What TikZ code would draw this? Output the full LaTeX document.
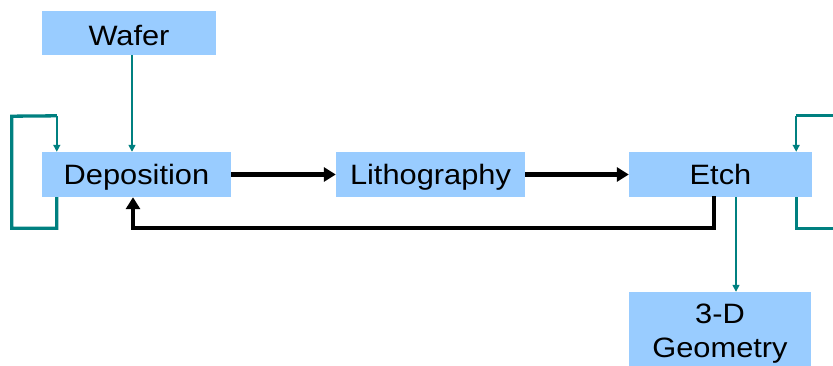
\documentclass[tikz,border=0pt]{standalone}
\usepackage{fontspec}
\setmainfont{Liberation Sans}[FakeStretch=1.1]
\usetikzlibrary{arrows.meta,calc}

\definecolor{boxblue}{HTML}{99CCFF}
\definecolor{loopteal}{HTML}{008080}

\begin{document}
\begin{tikzpicture}[x=1pt, y=-1pt,
  stepbox/.style={fill=boxblue, draw=none, inner sep=0pt,
    minimum height=45pt, font=\fontsize{28}{34}\selectfont},
  oneline/.style={text height=22pt, text depth=1pt},
  flow/.style={line width=4.5pt, -{Triangle[width=14pt,length=12pt]}},
  feed/.style={color=loopteal, line width=1.5pt, -{Triangle[width=7pt,length=7pt]}},
  loopline/.style={color=loopteal, line width=3.3pt}]

\useasboundingbox (0,0) rectangle (833,366);
\clip (0,0) rectangle (833,366);

%% process steps
\node[stepbox, text height=25pt, text depth=0pt, minimum width=174pt, minimum height=44pt] (wafer) at (129,33) {Wafer};
\node[stepbox, oneline, minimum width=189pt] (depo) at (136.5,174.5) {Deposition};
\node[stepbox, oneline, minimum width=189pt] (litho) at (430.5,174.5) {Lithography};
\node[stepbox, oneline, minimum width=183pt] (etch) at (720.5,174.5) {Etch};
\node[stepbox, minimum width=182pt, minimum height=83pt, align=center] (geom) at (720,333.5)
  {3-D\\Geometry};

%% main flow
\draw[flow] (depo) -- (litho);
\draw[flow] (litho) -- (etch);
\draw[flow] ($(etch.south west)+(85,-1)$) -- ++(0,32) -| ([xshift=-3.5pt]depo.south);

%% inputs and outputs
\draw[feed] ([xshift=3pt]wafer.south) -- ([xshift=3pt]wafer.south |- depo.north);
\draw[feed] ([xshift=15.5pt]etch.south) -- ([xshift=15.5pt]etch.south |- geom.north);

%% deposition loop
\coordinate (dtop) at ($(depo.north west)+(15,-36)$);
\draw[loopline] ($(depo.south west)+(15,0)$) -- ++(0,31) -- ++(-45,0) -- ++(0,-112) -- (dtop);
\draw[feed] (dtop) -- (dtop |- depo.north);

%% etch loop
\coordinate (etop) at ($(etch.north east)+(-16,-36)$);
\draw[loopline] ($(etch.south east)+(-16,0)$) -- ++(0,31) -- ++(60,0);
\draw[loopline] ($(etop)+(60,0)$) -- (etop);
\draw[feed] (etop) -- (etop |- etch.north);

\end{tikzpicture}
\end{document}
